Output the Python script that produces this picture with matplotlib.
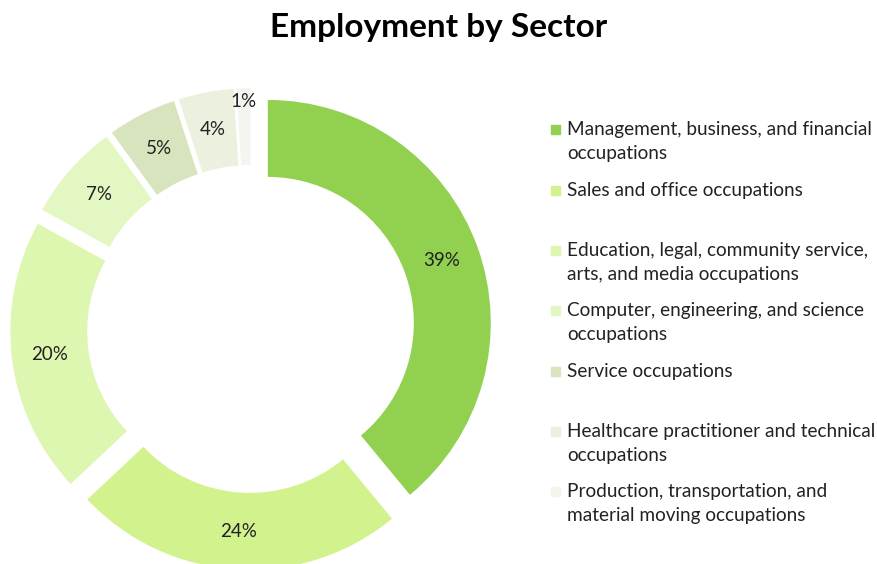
import matplotlib.pyplot as plt
import numpy as np

plt.rcParams['font.family'] = ['Lato', 'DejaVu Sans']

# data
sectors = ['Management, business, and financial\noccupations',
           'Sales and office occupations',
           'Education, legal, community service,\narts, and media occupations',
           'Computer, engineering, and science\noccupations',
           'Service occupations',
           'Healthcare practitioner and technical\noccupations',
           'Production, transportation, and\nmaterial moving occupations']
shares = [39, 24, 20, 7, 5, 4, 1]
colors = ['#92D050', '#D2F28E', '#DDF6B0', '#E3F7C2', '#D7E4BD', '#EBF1DE', '#F3F5EE']

fig = plt.figure(figsize=(8.77, 5.64), dpi=100)
W, H = 877, 564

# donut: radius 1 -> 223 px, centre at (251, 329) from top-left
R = 223
cx, cy = 251, H - 329
half = 1.2 * R
ax = fig.add_axes([(cx - half) / W, (cy - half) / H, 2 * half / W, 2 * half / H])

wedges, texts, autotexts = ax.pie(
    shares, colors=colors, startangle=90, counterclock=False,
    explode=[0.08] * len(shares), radius=1.0,
    wedgeprops=dict(width=0.345, linewidth=0),
    autopct='%d%%', pctdistance=0.83,
    textprops=dict(fontsize=13.5, color='#222222'))

# smallest slice label sits near the outer rim
x, y = autotexts[-1].get_position()
autotexts[-1].set_position((x * 1.12, y * 1.12))

ax.set_xlim(-1.2, 1.2)
ax.set_ylim(-1.2, 1.2)
ax.axis('off')

fig.text(0.5, 1 - 27 / H, 'Employment by Sector', ha='center', va='center',
         fontsize=24, fontweight='bold', color='black')

# legend
for i, (lab, col) in enumerate(zip(sectors, colors)):
    yc = 130 + i * 60.3
    fig.patches.append(plt.Rectangle((551 / W, 1 - (yc + 4.5) / H), 9 / W, 9 / H,
                                     transform=fig.transFigure, color=col))
    fig.text(567 / W, 1 - (yc - 8.5) / H, lab, ha='left', va='top',
             fontsize=13.7, color='#222222', linespacing=1.5)

fig.savefig('out.png', dpi=100)
